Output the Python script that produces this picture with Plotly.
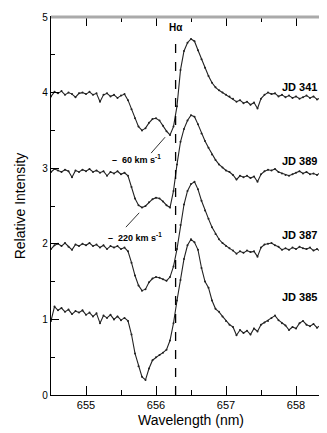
import plotly.graph_objects as go

# wavelength grid (nm) shared by the four spectra
wavelength = [round(654.50 + 0.05 * i, 2) for i in range(81)]

jd341 = [3.95, 4.01, 3.99, 4.02, 3.97, 4.00, 3.98, 3.94, 3.99, 4.00,
         3.98, 4.01, 3.97, 3.99, 3.88, 3.97, 3.99, 3.95, 3.97, 3.93,
         3.96, 3.98, 3.90, 3.78, 3.66, 3.55, 3.50, 3.53, 3.60, 3.65,
         3.66, 3.63, 3.56, 3.49, 3.44, 3.55, 3.82, 4.30, 4.55, 4.66,
         4.71, 4.68, 4.56, 4.44, 4.33, 4.22, 4.13, 4.07, 4.03, 4.00,
         3.97, 3.95, 3.92, 3.88, 3.90, 3.86, 3.88, 3.84, 3.87, 3.79,
         3.92, 3.97, 4.00, 3.98, 3.99, 3.95, 3.97, 3.94, 3.96, 3.93,
         3.95, 3.92, 3.94, 3.96, 3.93, 3.95, 3.91, 3.93, 3.90, 3.92, 3.91]

jd389 = [2.95, 2.99, 2.97, 2.95, 2.98, 2.96, 2.88, 2.97, 2.95, 2.98,
         2.96, 2.99, 2.95, 2.97, 2.94, 2.96, 2.90, 2.95, 2.93, 2.96,
         2.92, 2.94, 2.90, 2.75, 2.60, 2.51, 2.48, 2.50, 2.55, 2.59,
         2.61, 2.60, 2.56, 2.51, 2.48, 2.70, 3.05, 3.35, 3.52, 3.63,
         3.70, 3.68, 3.58, 3.46, 3.36, 3.27, 3.18, 3.11, 3.05, 3.01,
         2.97, 2.95, 2.91, 2.85, 2.90, 2.88, 2.90, 2.87, 2.89, 2.82,
         2.92, 2.96, 2.98, 2.97, 2.99, 2.95, 2.93, 2.91, 2.90, 2.92,
         2.94, 2.96, 2.93, 2.95, 2.92, 2.93, 2.91, 2.94, 2.90, 2.92, 2.91]

jd387 = [1.93, 1.98, 2.00, 1.97, 2.01, 1.96, 1.92, 1.99, 1.97, 2.00,
         1.98, 2.01, 1.97, 1.99, 1.95, 1.98, 1.93, 1.97, 1.95, 1.97,
         1.93, 1.95, 1.90, 1.75, 1.58, 1.45, 1.38, 1.40, 1.49, 1.54,
         1.56, 1.55, 1.53, 1.51, 1.56, 1.70, 1.93, 2.25, 2.52, 2.70,
         2.79, 2.82, 2.72, 2.57, 2.44, 2.33, 2.22, 2.13, 2.06, 2.01,
         1.97, 1.94, 1.91, 1.87, 1.90, 1.88, 1.91, 1.89, 1.90, 1.83,
         1.95, 1.99, 2.00, 2.01, 1.98, 1.96, 1.92, 1.94, 1.92, 1.95,
         1.93, 1.96, 1.94, 1.93, 1.95, 1.91, 1.93, 1.90, 1.92, 1.90, 1.91]

jd385 = [0.98, 1.17, 1.12, 1.15, 1.10, 1.13, 1.07, 1.11, 1.09, 1.12,
         1.06, 1.09, 1.04, 1.08, 0.95, 1.05, 1.02, 1.06, 1.00, 1.04,
         0.99, 1.02, 0.98, 0.80, 0.55, 0.38, 0.24, 0.20, 0.35, 0.46,
         0.50, 0.53, 0.56, 0.60, 0.72, 0.95, 1.25, 1.52, 1.80, 1.98,
         2.06, 2.02, 1.92, 1.68, 1.50, 1.42, 1.25, 1.14, 1.10, 1.04,
         0.98, 0.93, 0.90, 0.79, 0.86, 0.82, 0.85, 0.80, 0.88, 0.84,
         0.93, 0.96, 0.98, 1.02, 1.05, 0.99, 0.95, 0.92, 0.86, 0.90,
         0.88, 0.95, 0.98, 0.93, 0.91, 0.94, 0.89, 0.92, 0.88, 0.90, 0.87]

spectra = {"JD 341": jd341, "JD 389": jd389, "JD 387": jd387, "JD 385": jd385}
label_y = {"JD 341": 4.08, "JD 389": 3.10, "JD 387": 2.11, "JD 385": 1.29}

h_alpha = 656.28
font = "Liberation Sans, Arial, sans-serif"

fig = go.Figure()
for name, vals in spectra.items():
    fig.add_trace(go.Scatter(x=wavelength, y=vals, mode="lines+markers",
                             line=dict(color="#222", width=1.1),
                             marker=dict(size=2, color="#222"),
                             name=name, showlegend=False))

# rest wavelength of H-alpha
fig.add_trace(go.Scatter(x=[h_alpha, h_alpha], y=[0, 4.72], mode="lines",
                         line=dict(color="black", width=1.3, dash="dash"),
                         showlegend=False))

ann = [dict(x=h_alpha, y=4.86, text="<b>Hα</b>", showarrow=False,
            font=dict(size=10))]
for name, y in label_y.items():
    ann.append(dict(x=658.33, y=y, text="<b>%s</b>" % name, showarrow=False,
                    xanchor="right", font=dict(size=11)))
ann.append(dict(x=655.72, y=3.12,
                text="<b>–  60 km s<sup>-1</sup></b>",
                showarrow=False, font=dict(size=9)))
ann.append(dict(x=655.70, y=2.09,
                text="<b>–  220 km s<sup>-1</sup></b>",
                showarrow=False, font=dict(size=9)))

# leader lines from the velocity labels to the absorption minima
leaders = [dict(type="line", xref="x", yref="y", x0=655.93, y0=3.20,
                x1=656.13, y1=3.41, line=dict(color="#333", width=1)),
           dict(type="line", xref="x", yref="y", x0=655.57, y0=2.22,
                x1=655.76, y1=2.41, line=dict(color="#333", width=1))]

fig.update_layout(
    width=327, height=433,
    margin=dict(l=43, r=3, t=7, b=46),
    plot_bgcolor="white", paper_bgcolor="white",
    font=dict(family=font, color="black", size=10),
    annotations=ann,
    shapes=leaders + [dict(type="line", xref="paper", yref="paper", x0=0,
                           x1=1, y0=1, y1=1,
                           line=dict(color="#aaa", width=3))],
)
fig.update_xaxes(range=[654.5, 658.5], tickvals=[655, 656, 657, 658],
                 ticks="inside", ticklen=9, tickcolor="black",
                 minor=dict(dtick=0.5, tick0=654.5, ticks="inside",
                            ticklen=5, tickcolor="black"),
                 showline=True, linecolor="black", linewidth=1.2,
                 mirror="allticks", showgrid=False, zeroline=False,
                 tickfont=dict(size=11),
                 title=dict(text="Wavelength (nm)", font=dict(size=14),
                            standoff=4))
fig.update_yaxes(range=[0, 5], dtick=1, ticks="inside", ticklen=8,
                 tickcolor="black",
                 minor=dict(dtick=0.5, ticks="inside", ticklen=4,
                            tickcolor="black"),
                 showline=True, linecolor="black", linewidth=1.2,
                 mirror="allticks", showgrid=False, zeroline=False,
                 tickfont=dict(size=10),
                 title=dict(text="Relative Intensity", font=dict(size=14),
                            standoff=13))

fig.write_html("out.html")
